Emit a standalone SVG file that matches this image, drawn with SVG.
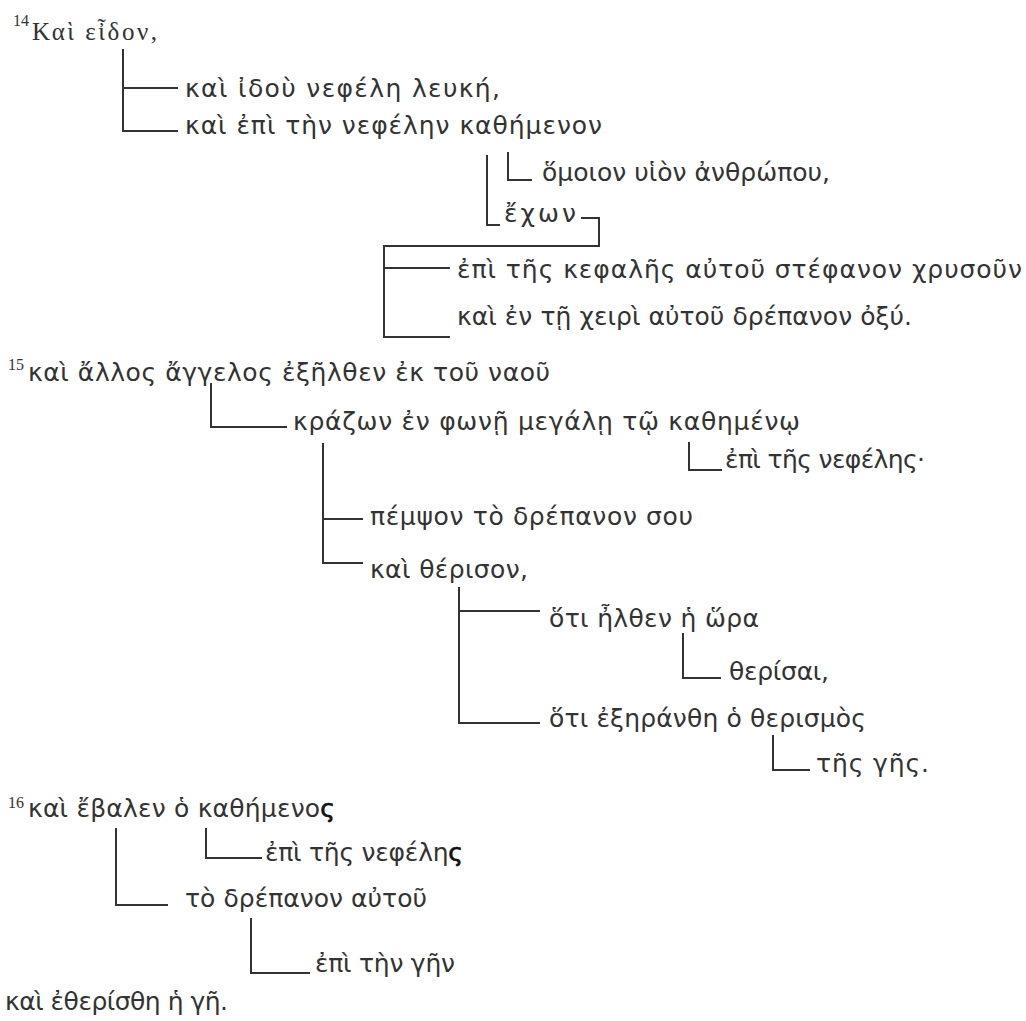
<svg xmlns="http://www.w3.org/2000/svg" width="1026" height="1021" viewBox="0 0 1026 1021">
<style>
.g{font-family:"DejaVu Sans","Noto Sans",sans-serif;font-size:25px;fill:#333333}
.s{font-family:"Liberation Serif","DejaVu Serif",serif;fill:#333333}
.sup{font-family:"Liberation Serif","DejaVu Serif",serif;font-size:16px;fill:#333333}
.c{fill:none;stroke:#333333;stroke-width:2}
.b{fill:#111111;stroke:#111111;stroke-width:0.7}
</style>
<rect width="1026" height="1021" fill="#ffffff"/>
<g id="connectors" class="c">
<path d="M123 49 V131 H178 M123 88 H178"/>
<path d="M487 155 V225 H500"/>
<path d="M508 152 V180 H532"/>
<path d="M581 218 H599 V246 H384 V337 H450 M384 268 H450"/>
<path d="M211 383 V427 H287"/>
<path d="M689 442 V470 H722"/>
<path d="M323 443 V563 H363 M323 519 H363"/>
<path d="M459 587 V723 H540 M459 611 H540"/>
<path d="M683 633 V678 H721"/>
<path d="M773 735 V770 H810"/>
<path d="M116 828 V905 H168"/>
<path d="M206 828 V858 H262"/>
<path d="M251 918 V973 H310"/>
</g>
<g id="n1"><text class="sup" x="13" y="26">14</text><text class="s" x="32" y="40" font-size="25" textLength="125" lengthAdjust="spacing">Καὶ εἶδον,</text></g>
<g id="n2"><text class="g" x="185" y="97" textLength="315" lengthAdjust="spacing">καὶ ἰδοὺ νεφέλη λευκή,</text></g>
<g id="n3"><text class="g" x="185" y="134" textLength="417" lengthAdjust="spacing">καὶ ἐπὶ τὴν νεφέλην καθήμενον</text></g>
<g id="n4"><text class="g" x="542" y="181" textLength="288" lengthAdjust="spacing">ὅμοιον υἱὸν ἀνθρώπου,</text></g>
<g id="n5"><text class="g" x="504" y="222" textLength="72" lengthAdjust="spacing">ἔχων</text></g>
<g id="n6"><text class="g" x="457" y="278" textLength="565" lengthAdjust="spacing">ἐπὶ τῆς κεφαλῆς αὐτοῦ στέφανον χρυσοῦν</text></g>
<g id="n7"><text class="g" x="457" y="325" textLength="455" lengthAdjust="spacing">καὶ ἐν τῇ χειρὶ αὐτοῦ δρέπανον ὀξύ.</text></g>
<g id="n8"><text class="sup" x="8" y="370">15</text><text class="g" x="28" y="381" textLength="522" lengthAdjust="spacing">καὶ ἄλλος ἄγγελος ἐξῆλθεν ἐκ τοῦ ναοῦ</text></g>
<g id="n9"><text class="g" x="293" y="430" textLength="507" lengthAdjust="spacing">κράζων ἐν φωνῇ μεγάλῃ τῷ καθημένῳ</text></g>
<g id="n10"><text class="g" x="725" y="468" textLength="200" lengthAdjust="spacing">ἐπὶ τῆς νεφέλης·</text></g>
<g id="n11"><text class="g" x="370" y="525" textLength="323" lengthAdjust="spacing">πέμψον τὸ δρέπανον σου</text></g>
<g id="n12"><text class="g" x="370" y="578" textLength="158" lengthAdjust="spacing">καὶ θέρισον,</text></g>
<g id="n13"><text class="g" x="549" y="627" textLength="210" lengthAdjust="spacing">ὅτι ἦλθεν ἡ ὥρα</text></g>
<g id="n14"><text class="g" x="729" y="680" textLength="100" lengthAdjust="spacing">θερίσαι,</text></g>
<g id="n15"><text class="g" x="549" y="727" textLength="317" lengthAdjust="spacing">ὅτι ἐξηράνθη ὁ θερισμὸς</text></g>
<g id="n16"><text class="g" x="816" y="772" textLength="113" lengthAdjust="spacing">τῆς γῆς.</text></g>
<g id="n17"><text class="sup" x="8" y="808">16</text><text class="g" x="28" y="817" textLength="307" lengthAdjust="spacing">καὶ ἔβαλεν ὁ καθήμενο<tspan class="b">ς</tspan></text></g>
<g id="n18"><text class="g" x="265" y="861" textLength="198" lengthAdjust="spacing">ἐπὶ τῆς νεφέλη<tspan class="b">ς</tspan></text></g>
<g id="n19"><text class="g" x="185" y="907" textLength="242" lengthAdjust="spacing">τὸ δρέπανον αὐτοῦ</text></g>
<g id="n20"><text class="g" x="315" y="972" textLength="140" lengthAdjust="spacing">ἐπὶ τὴν γῆν</text></g>
<g id="n21"><text class="g" x="5" y="1010" textLength="223" lengthAdjust="spacing">καὶ ἐθερίσθη ἡ γῆ.</text></g>
</svg>
